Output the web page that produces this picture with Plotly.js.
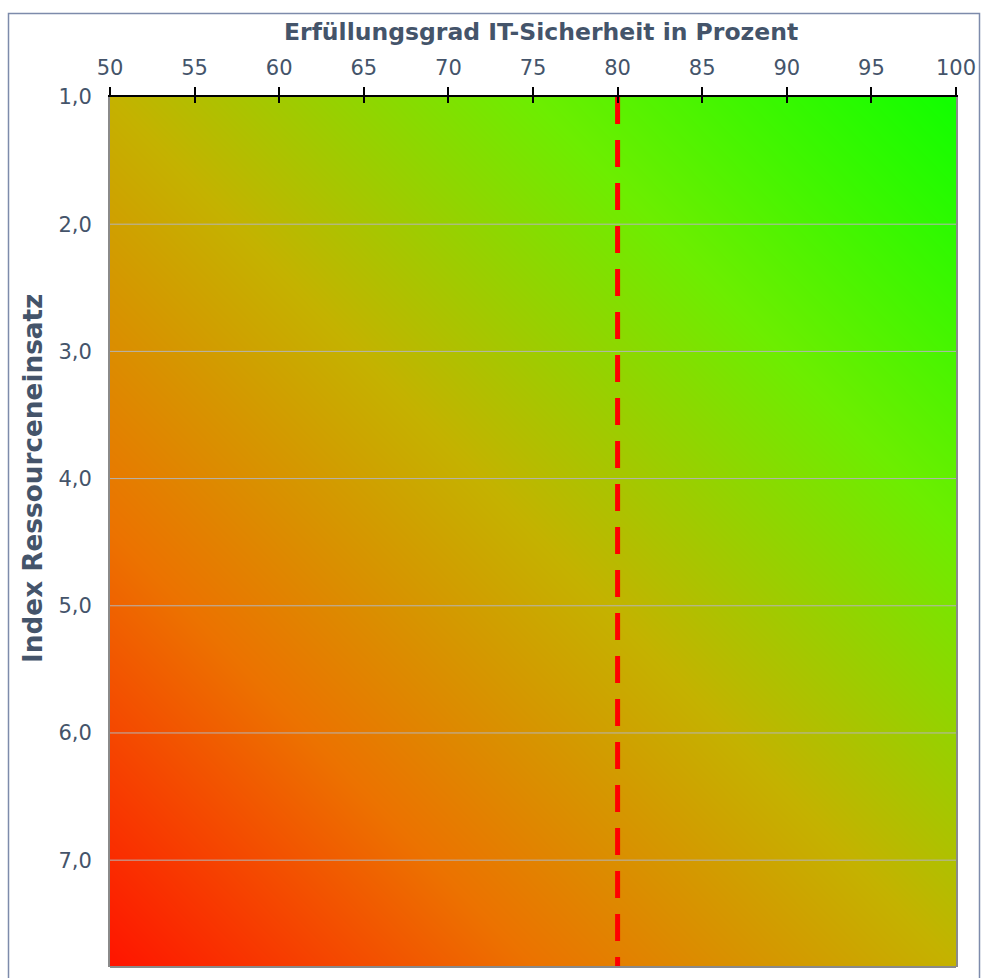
<!DOCTYPE html>
<html>
<head>
<meta charset="utf-8">
<script src="https://cdn.plot.ly/plotly-3.0.1.min.js"></script>
<style>
  html, body { margin: 0; padding: 0; background: #ffffff; }
  #chart { width: 981px; height: 978px; }
</style>
</head>
<body>
<div id="chart"></div>
<script>
// ---- data ----
var xTitle = 'Erfüllungsgrad IT-Sicherheit in Prozent';
var yTitle = 'Index Ressourceneinsatz';
var xRange = [50, 100];
var yRange = [1, 7.84];
var xTickVals = [50, 55, 60, 65, 70, 75, 80, 85, 90, 95, 100];
var yTickVals = [1, 2, 3, 4, 5, 6, 7];
var threshold = 80;
// gradient corner levels: rows = y (top, bottom), cols = x (left, right)
var cornerLevels = [[1, 2], [0, 1]];
var gradientColors = [
  [0, '#ff1400'],
  [0.25, '#ec7200'],
  [0.5, '#c4b200'],
  [0.75, '#6cee00'],
  [1, '#10ff00']
];

// ---- traces ----
var heat = {
  type: 'heatmap',
  x: xRange,
  y: yRange,
  z: cornerLevels,
  zmin: 0, zmax: 2,
  zsmooth: 'best',
  colorscale: gradientColors,
  showscale: false,
  hoverinfo: 'skip'
};

var gx = [], gy = [];
yTickVals.forEach(function (v) {
  if (v === yRange[0]) return;
  gx.push(xRange[0], xRange[1], null);
  gy.push(v, v, null);
});
var grid = {
  type: 'scatter', mode: 'lines',
  x: gx, y: gy,
  line: { color: '#b4b4b4', width: 1 },
  hoverinfo: 'skip', showlegend: false
};

var thr = {
  type: 'scatter', mode: 'lines',
  x: [threshold, threshold], y: yRange,
  xaxis: 'x2',
  line: { color: '#ff0000', width: 5, dash: '27px,16px' },
  hoverinfo: 'skip', showlegend: false
};

var txtColor = '#44546a';
var font = 'DejaVu Sans, Verdana, sans-serif';

var pl = 110, pw = 846, pb = 11, ph = 870;
function px2x(p) { return (p - pl) / pw; }
function py2y(p) { return (978 - pb - p) / ph; }

var layout = {
  width: 981, height: 978,
  margin: { l: pl, r: 981 - pl - pw, t: 978 - pb - ph, b: pb },
  paper_bgcolor: '#ffffff',
  plot_bgcolor: '#ffffff',
  showlegend: false,
  separators: ',.',
  font: { family: font, color: txtColor, size: 20 },
  xaxis: {
    side: 'top', range: xRange, tickvals: xTickVals,
    ticks: 'outside', ticklen: 8, tickwidth: 2, tickcolor: '#000000',
    showline: true, linecolor: '#000000', linewidth: 2,
    showgrid: false, zeroline: false, layer: 'above traces',
    tickfont: { size: 21, color: txtColor, family: font },
    ticklabelstandoff: 4
  },
  xaxis2: {
    overlaying: 'x', side: 'top', range: xRange, tickvals: xTickVals,
    ticks: 'inside', ticklen: 6, tickwidth: 2, tickcolor: '#000000',
    showticklabels: false, showline: false, showgrid: false, zeroline: false,
    layer: 'above traces'
  },
  yaxis: {
    range: [yRange[1], yRange[0]], tickvals: yTickVals, tickformat: '.1f',
    ticks: '', showgrid: false, zeroline: false,
    showline: true, linecolor: '#8a8a8a', linewidth: 2, mirror: true,
    layer: 'above traces',
    tickfont: { size: 21, color: txtColor, family: font },
    ticklabelstandoff: 12
  },
  annotations: [
    { text: '<b>' + xTitle + '</b>', xref: 'paper', yref: 'paper',
      x: px2x(541), y: py2y(32), xanchor: 'center', yanchor: 'middle',
      showarrow: false, font: { size: 23.5, color: txtColor, family: font } },
    { text: '<b>' + yTitle + '</b>', xref: 'paper', yref: 'paper',
      x: px2x(33), y: py2y(479), xanchor: 'center', yanchor: 'middle',
      textangle: -90,
      showarrow: false, font: { size: 26.3, color: txtColor, family: font } }
  ],
  shapes: [
    { type: 'line', xref: 'paper', yref: 'paper', x0: 0, x1: 1, y0: 0, y1: 0,
      line: { color: '#8a8a8a', width: 2 } },
    { type: 'rect', xref: 'paper', yref: 'paper',
      x0: px2x(8.5), x1: px2x(979.5), y0: py2y(995), y1: py2y(13.5),
      line: { color: '#7d8bab', width: 1.5 }, fillcolor: 'rgba(0,0,0,0)', layer: 'above' }
  ]
};

Plotly.newPlot('chart', [heat, grid, thr], layout, { displayModeBar: false, staticPlot: true });
</script>
</body>
</html>
